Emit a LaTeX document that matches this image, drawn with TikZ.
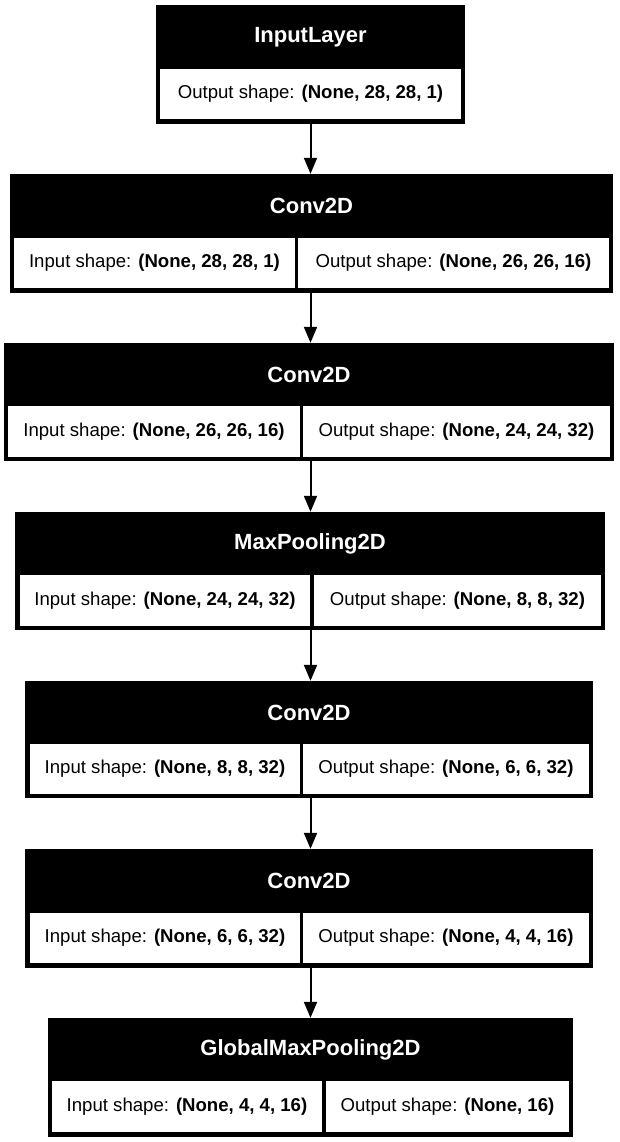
\documentclass[tikz,border=0pt]{standalone}
\usepackage{fontspec}
\setmainfont{Liberation Sans}
\usetikzlibrary{arrows.meta}

\begin{document}
\begin{tikzpicture}[x=1pt,y=-1pt,
    layer/.style={fill=black,draw=none,inner sep=0pt},
    head/.style={text=white,font=\fontsize{22}{26}\selectfont\bfseries,inner sep=0pt},
    cell/.style={fill=white,draw=none,inner sep=0pt,minimum height=50pt,font=\fontsize{18.6}{22}\selectfont},
    flow/.style={line width=2pt,-{Triangle[length=16pt,width=13pt]}}]

        \useasboundingbox (0,0) rectangle (619,1142);

        %InputLayer
        \node[layer,minimum width=309pt,minimum height=119pt] (b1) at (310.5,64.5) {};
        \node[head] (h1) at (310.5,37) {InputLayer};
        \node[cell,minimum width=301pt] (o1) at (310.5,94) {Output shape: \textbf{(None, 28, 28, 1)}};

        %Conv2D
        \node[layer,minimum width=603pt,minimum height=119pt] (b2) at (311.5,233.5) {};
        \node[head] (h2) at (311.5,206) {Conv2D};
        \node[cell,minimum width=281pt] (i2) at (154.5,263) {Input shape: \textbf{(None, 28, 28, 1)}};
        \node[cell,minimum width=311pt] (o2) at (453.5,263) {Output shape: \textbf{(None, 26, 26, 16)}};

        %Conv2D
        \node[layer,minimum width=610pt,minimum height=118pt] (b3) at (309,402) {};
        \node[head] (h3) at (309,374.5) {Conv2D};
        \node[cell,minimum width=292pt,minimum height=51pt] (i3) at (154,431.5) {Input shape: \textbf{(None, 26, 26, 16)}};
        \node[cell,minimum width=307pt,minimum height=51pt] (o3) at (456.5,431.5) {Output shape: \textbf{(None, 24, 24, 32)}};

        %MaxPooling2D
        \node[layer,minimum width=590pt,minimum height=118pt] (b4) at (310,571) {};
        \node[head] (h4) at (310,543.5) {MaxPooling2D};
        \node[cell,minimum width=290pt,minimum height=51pt] (i4) at (165,600.5) {Input shape: \textbf{(None, 24, 24, 32)}};
        \node[cell,minimum width=287pt,minimum height=51pt] (o4) at (457.5,600.5) {Output shape: \textbf{(None, 8, 8, 32)}};

        %Conv2D
        \node[layer,minimum width=568pt,minimum height=117pt] (b5) at (309,739.5) {};
        \node[head] (h5) at (309,712.5) {Conv2D};
        \node[cell,minimum width=270pt] (i5) at (165,769) {Input shape: \textbf{(None, 8, 8, 32)}};
        \node[cell,minimum width=286pt] (o5) at (446,769) {Output shape: \textbf{(None, 6, 6, 32)}};

        %Conv2D
        \node[layer,minimum width=568pt,minimum height=119pt] (b6) at (309,908.5) {};
        \node[head] (h6) at (309,881) {Conv2D};
        \node[cell,minimum width=270pt] (i6) at (165,938) {Input shape: \textbf{(None, 6, 6, 32)}};
        \node[cell,minimum width=286pt] (o6) at (446,938) {Output shape: \textbf{(None, 4, 4, 16)}};

        %GlobalMaxPooling2D
        \node[layer,minimum width=525pt,minimum height=119pt] (b7) at (310.5,1077.5) {};
        \node[head] (h7) at (310.5,1049.5) {GlobalMaxPooling2D};
        \node[cell,minimum width=270pt,minimum height=51pt] (i7) at (187,1106.5) {Input shape: \textbf{(None, 4, 4, 16)}};
        \node[cell,minimum width=243pt,minimum height=51pt] (o7) at (447.5,1106.5) {Output shape: \textbf{(None, 16)}};

        %arrows
        \draw[flow] (b1.south) -- (b1.south |- b2.north);
        \draw[flow] (b1.south |- b2.south) -- (b1.south |- b3.north);
        \draw[flow] (b1.south |- b3.south) -- (b1.south |- b4.north);
        \draw[flow] (b1.south |- b4.south) -- (b1.south |- b5.north);
        \draw[flow] (b1.south |- b5.south) -- (b1.south |- b6.north);
        \draw[flow] (b1.south |- b6.south) -- (b1.south |- b7.north);
\end{tikzpicture}
\end{document}
